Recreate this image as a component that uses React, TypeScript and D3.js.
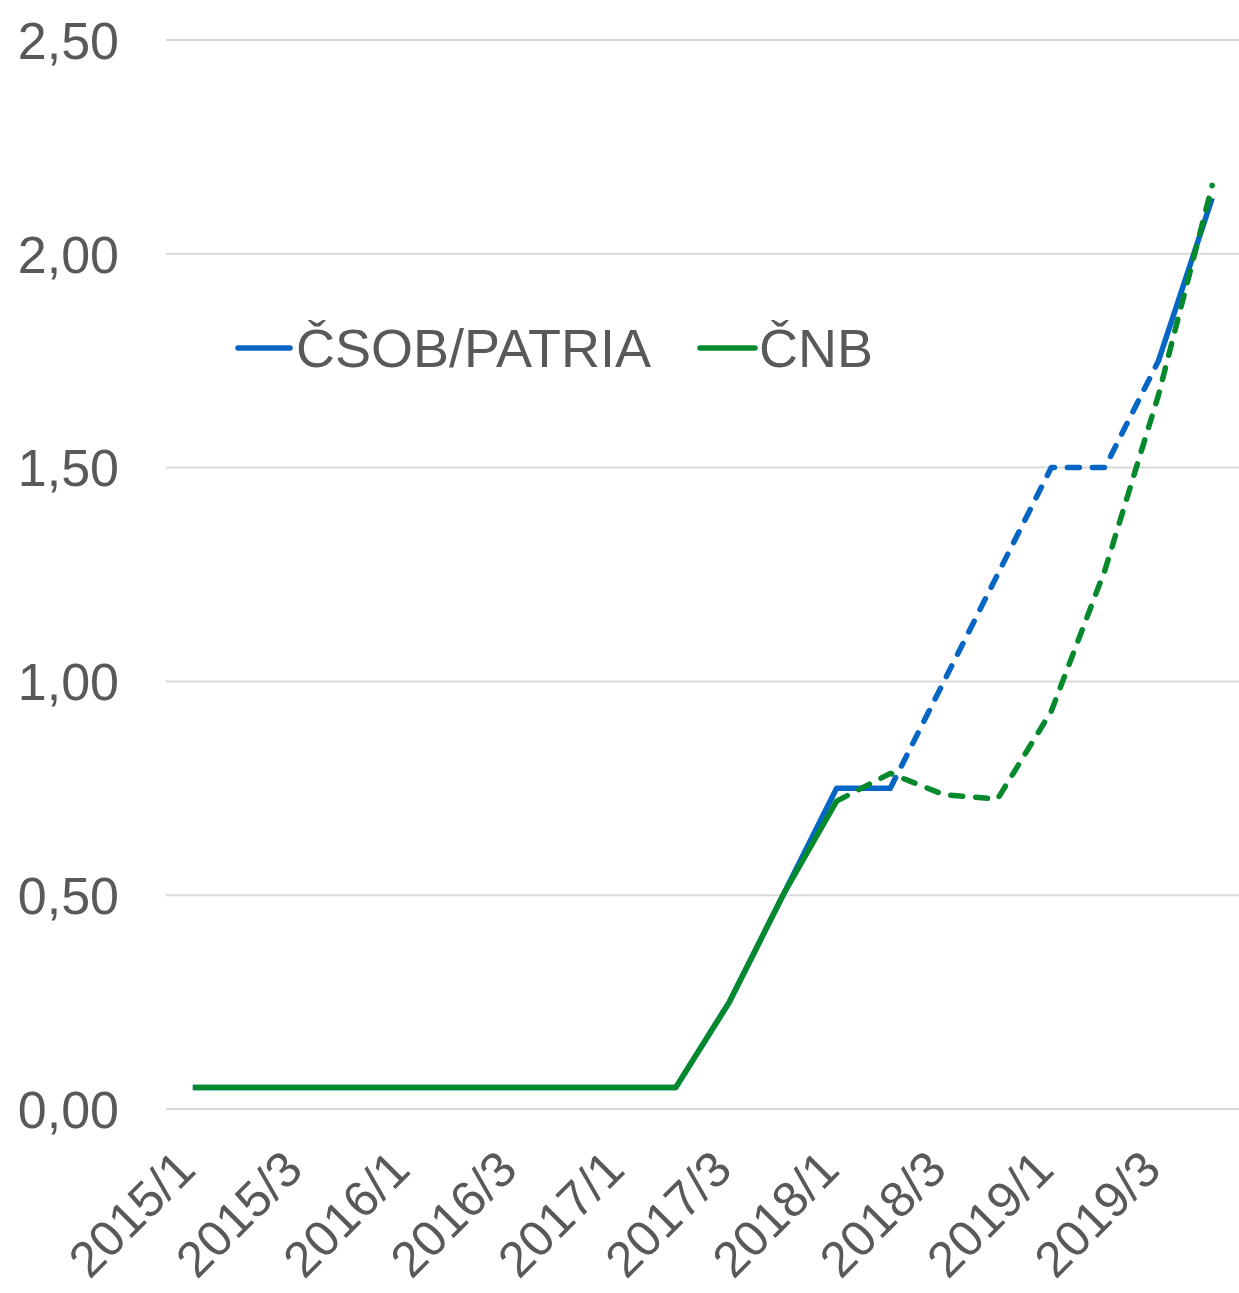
import React from 'react';
import { scaleBand, scaleLinear, line } from 'd3';

const quarters = [
  '2015/1', '2015/2', '2015/3', '2015/4',
  '2016/1', '2016/2', '2016/3', '2016/4',
  '2017/1', '2017/2', '2017/3', '2017/4',
  '2018/1', '2018/2', '2018/3', '2018/4',
  '2019/1', '2019/2', '2019/3', '2019/4',
];

// actual values (solid) and forecast (dashed); null = no point
const csobActual = [0.05, 0.05, 0.05, 0.05, 0.05, 0.05, 0.05, 0.05, 0.05, 0.05, 0.25, 0.5, 0.75, 0.75, null, null, null, null, 1.75, 2.13];
const csobForecast = [null, null, null, null, null, null, null, null, null, null, null, null, null, 0.75, 1.0, 1.25, 1.5, 1.5, 1.75, null];
const cnbActual = [0.05, 0.05, 0.05, 0.05, 0.05, 0.05, 0.05, 0.05, 0.05, 0.05, 0.25, 0.5, 0.72, null, null, null, null, null, null, null];
const cnbForecast = [null, null, null, null, null, null, null, null, null, null, null, null, 0.72, 0.785, 0.735, 0.725, 0.93, 1.26, 1.67, 2.16];

const yTicks = [0, 0.5, 1, 1.5, 2, 2.5];

const BLUE = '#0566c6';
const GREEN = '#048a2c';
const TEXT = '#595959';
const FONT = '"Liberation Sans", Arial, sans-serif';

const W = 1239;
const H = 1293;

export default function App() {
  const x = scaleBand<string>().domain(quarters).range([166, 1239]);
  const y = scaleLinear().domain([0, 2.5]).range([1109, 40]);
  const cx = (q: string) => (x(q) as number) + x.bandwidth() / 2;

  const gen = line<number | null>()
    .defined(d => d !== null)
    .x((_, i) => cx(quarters[i]))
    .y(d => y(d as number));

  const series = [
    { vals: csobActual, color: BLUE, dash: undefined },
    { vals: csobForecast, color: BLUE, dash: '12 13' },
    { vals: cnbActual, color: GREEN, dash: undefined },
    { vals: cnbForecast, color: GREEN, dash: '12 13' },
  ];

  return (
    <div style={{ position: 'absolute', left: 0, top: 0 }}>
      <svg width={W} height={H} style={{ display: 'block', background: '#fff' }}>
        {/* gridlines + y labels */}
        {yTicks.map(t => (
          <g key={t}>
            <line x1={166} x2={1239} y1={y(t)} y2={y(t)} stroke="#d9d9d9" strokeWidth={2} />
            <text x={119} y={y(t)} dy="0.36em" textAnchor="end" fontFamily={FONT} fontSize={52} fill={TEXT}>
              {t.toFixed(2).replace('.', ',')}
            </text>
          </g>
        ))}

        {/* x labels, every second quarter */}
        {quarters.filter((_, i) => i % 2 === 0).map(q => (
          <text
            key={q}
            transform={`translate(${cx(q) + 5},${1172}) rotate(-45)`}
            textAnchor="end"
            fontFamily={FONT}
            fontSize={50}
            fill={TEXT}
          >
            {q}
          </text>
        ))}

        {/* lines */}
        {series.map((s, i) => (
          <path
            key={i}
            d={gen(s.vals) || ''}
            fill="none"
            stroke={s.color}
            strokeWidth={5.5}
            strokeDasharray={s.dash}
            strokeLinecap={s.dash ? 'round' : 'butt'}
            strokeLinejoin="round"
          />
        ))}

        {/* legend */}
        <g fontFamily={FONT} fontSize={54} fill={TEXT}>
          <line x1={238} x2={290} y1={348} y2={348} stroke={BLUE} strokeWidth={5.5} strokeLinecap="round" />
          <text x={296} y={348} dy="0.36em">ČSOB/PATRIA</text>
          <line x1={700} x2={755} y1={348} y2={348} stroke={GREEN} strokeWidth={5.5} strokeLinecap="round" />
          <text x={759} y={348} dy="0.36em">ČNB</text>
        </g>
      </svg>
    </div>
  );
}
